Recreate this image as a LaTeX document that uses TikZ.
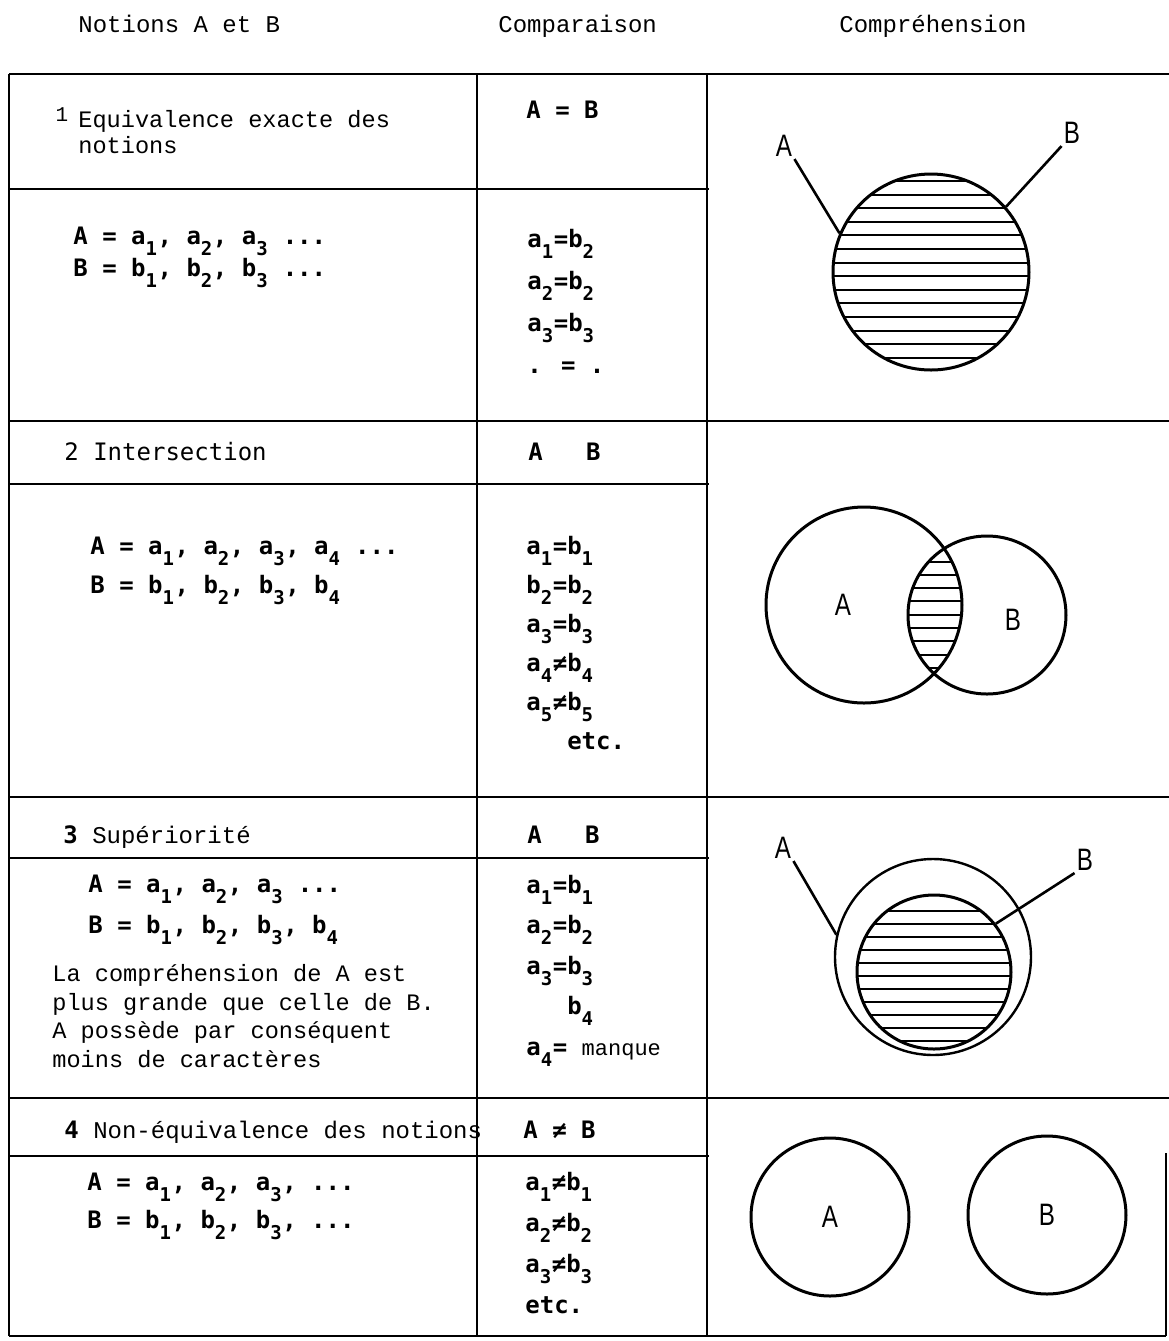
\documentclass[tikz,border=0pt]{standalone}
\usepackage{fontspec}
\setmainfont{Liberation Mono}
\newfontfamily\gothic{DejaVu Sans Mono}
\newfontfamily\letter[FakeStretch=0.78]{Liberation Sans}
\usetikzlibrary{positioning}

% lowered typewriter index
\newcommand{\low}[1]{\makebox[0.5em][l]{\raisebox{-5.5pt}{\fontsize{9.5}{9.5}\selectfont #1}}}

\tikzstyle{tabline} = [line width=1.3pt]
\tikzstyle{head}    = [anchor=base west, inner sep=0pt, font=\fontsize{12}{13}\selectfont]
\tikzstyle{venn}    = [circle, draw, line width=1.5pt, inner sep=0pt]
\tikzstyle{vlabel}  = [inner sep=1pt, font=\letter\fontsize{15.5}{16}\selectfont]
\tikzstyle{hatch}   = [line width=1pt]
\tikzstyle{leader}  = [line width=1.3pt]
\tikzset{
  formula/.style={anchor=base west, inner sep=0pt, align=left,
                  font=\gothic\bfseries\fontsize{12}{#1}\selectfont},
  prose/.style={anchor=base west, inner sep=0pt, align=left,
                font=\fontsize{11.8}{#1}\selectfont}
}

\begin{document}
\begin{tikzpicture}[x=0.5pt, y=-0.5pt]
\useasboundingbox (0,0) rectangle (1169,1341);

% column titles
\node (tNot) [head] at (78,32)  {Notions A et B};
\node (tCmp) [head] at (498,32) {Comparaison};
\node (tCom) [head] at (839,32) {Compréhension};

% table rules
\draw [tabline] (9,74)    -- (1169,74);
\draw [tabline] (9,421)   -- (1169,421);
\draw [tabline] (9,797)   -- (1169,797);
\draw [tabline] (9,1098)  -- (1169,1098);
\draw [tabline] (9,1336)  -- (1166,1336);
\draw [tabline] (9,189)   -- (709,189);
\draw [tabline] (9,484)   -- (709,484);
\draw [tabline] (9,858)   -- (709,858);
\draw [tabline] (9,1156)  -- (709,1156);
\draw [tabline] (9,74)    -- (9,1336);
\draw [tabline] (477,74)  -- (477,1336);
\draw [tabline] (707,74)  -- (707,1336);
\draw [tabline] (1166,1153) -- (1166,1336);

% 1 equivalence (multi-line nodes sit on their last line)
\node (n1) [anchor=base, inner sep=0pt, font=\fontsize{10.5}{10.5}\selectfont] at (62,121) {1};
\node (h1) [prose=13] at (78,153) {Equivalence exacte des\\notions};
\node (k1) [formula=14] at (526,118) {A = B};
\node (f1) [formula=13.5] at (73,276)
      {A = a\low1, a\low2, a\low3 ...\\B = b\low1, b\low2, b\low3 ...};
\node (c1) [formula=21] at (527,373)
      {a\low1=b\low2\\a\low2=b\low2\\a\low3=b\low3\\. = .};

\begin{scope}
  \clip (931,272) circle [radius=97];
  \foreach \y in {181,195,208,222,235,249,263,276,290,303,317,331,344,358}
    \draw [hatch] (820,\y) -- (1040,\y);
\end{scope}
\node (eq)  [venn, minimum size=98pt] at (931,272) {};
\node (eqA) [vlabel] at (784,146) {A};
\node (eqB) [vlabel] at (1072,133) {B};
\draw [leader] (eqA.south east) -- (eq.157);
\draw [leader] (eqB.south west) -- (eq.41);

% 2 intersection
\node (h2) [head, font=\gothic\fontsize{12}{13}\selectfont] at (64,460) {2 Intersection};
\node (k2) [formula=14] at (528,460) {A\phantom{xxx}B};
\node (f2) [formula=19.5] at (90,593)
      {A = a\low1, a\low2, a\low3, a\low4 ...\\B = b\low1, b\low2, b\low3, b\low4};
\node (c2) [formula=19.5] at (526,749)
      {a\low1=b\low1\\b\low2=b\low2\\a\low3=b\low3\\a\low4≠b\low4\\a\low5≠b\low5\\\phantom{a\low3=}etc.};

\begin{scope}
  \clip (864,605) circle [radius=98];
  \clip (987,615) circle [radius=79];
  \foreach \y in {562,575,588,601,615,628,641,655,668}
    \draw [hatch] (890,\y) -- (980,\y);
\end{scope}
\node (inA)  [venn, minimum size=98pt] at (864,605) {};
\node (inB)  [venn, minimum size=79pt] at (987,615) {};
\node (inAl) [vlabel] at (843,605)  {A};
\node (inBl) [vlabel] at (1013,620) {B};

% 3 superiorite
\node (h3) [head] at (63,843) {{\gothic\bfseries 3} Supériorité};
\node (k3) [formula=14] at (527,843) {A\phantom{xxx}B};
\node (f3) [formula=20.5] at (88,933)
      {A = a\low1, a\low2, a\low3 ...\\B = b\low1, b\low2, b\low3, b\low4};
\node (p3) [prose=14.2] at (52,1067)
      {La compréhension de A est\\plus grande que celle de B.\\A possède par conséquent\\moins de caractères};
\node (c3) [formula=20.25] at (526,1055)
      {a\low1=b\low1\\a\low2=b\low2\\a\low3=b\low3\\\phantom{a\low3=}b\low4\\a\low4=
       {\rmfamily\mdseries\fontsize{11}{11}\selectfont manque}};

\begin{scope}
  \clip (934,972) circle [radius=77];
  \foreach \y in {911,924,937,950,963,976,989,1002,1015,1028,1041}
    \draw [hatch] (850,\y) -- (1020,\y);
\end{scope}
\node (supA)  [venn, line width=1.2pt, minimum size=98pt] at (933,957) {};
\node (supB)  [venn, minimum size=77pt] at (934,972) {};
\node (supAl) [vlabel] at (783,848)  {A};
\node (supBl) [vlabel] at (1085,860) {B};
\draw [leader] (supAl.south east) -- (supA.167);
\draw [leader] (supBl.south west) -- (supB.38);

% 4 non-equivalence
\node (h4) [head] at (64,1138) {{\gothic\bfseries 4} Non-équivalence des notions};
\node (k4) [formula=14] at (523,1138) {A ≠ B};
\node (f4) [formula=19] at (87,1228)
      {A = a\low1, a\low2, a\low3, ...\\B = b\low1, b\low2, b\low3, ...};
\node (c4) [formula=20.5] at (525,1313)
      {a\low1≠b\low1\\a\low2≠b\low2\\a\low3≠b\low3\\etc.};

\node (neA) [venn, minimum size=79pt, font=\letter\fontsize{15.5}{16}\selectfont] at (830,1217) {A};
\node (neB) [venn, minimum size=79pt, font=\letter\fontsize{15.5}{16}\selectfont] at (1047,1215) {B};

\end{tikzpicture}
\end{document}
